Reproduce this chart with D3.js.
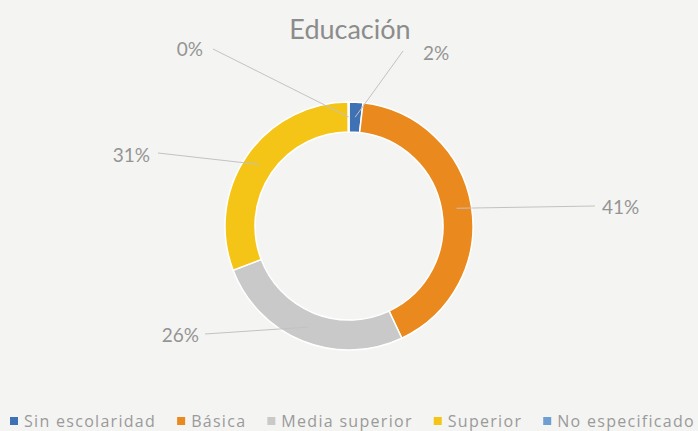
<!DOCTYPE html>
<html>
<head>
<meta charset="utf-8">
<script src="https://cdn.jsdelivr.net/npm/d3@7"></script>
<style>
  html, body { margin: 0; padding: 0; background: #f4f4f2; }
  svg { display: block; font-family: Lato, "Open Sans", sans-serif; }
  .legend text { font-family: "Open Sans", Lato, sans-serif; }
</style>
</head>
<body>
<svg id="chart" width="698" height="431"></svg>
<script>
// data
var categories = ["Sin escolaridad", "Básica", "Media superior", "Superior", "No especificado"];
var shares = [1.8, 41.2, 26.2, 30.7, 0.1];
var colors = ["#3f72b4", "#ea8a1e", "#c9c9c9", "#f4c516", "#6f9fd2"];

var width = 698, height = 431;
var cx = 349, cy = 226, outerR = 124, innerR = 94;

var svg = d3.select("#chart");

// title
svg.append("text")
  .attr("x", cx + 1).attr("y", 39)
  .attr("text-anchor", "middle")
  .attr("fill", "#8c8c8c")
  .style("font-size", "27px")
  .text("Educación");

var pie = d3.pie().sort(null).value(function(d){ return d; });
var arcs = pie(shares);
var arc = d3.arc().innerRadius(innerR).outerRadius(outerR);
var midArc = d3.arc().innerRadius(109).outerRadius(109);

var g = svg.append("g").attr("transform", "translate(" + cx + "," + cy + ")");

g.selectAll("path.slice")
  .data(arcs).enter()
  .append("path")
  .attr("class", "slice")
  .attr("d", arc)
  .attr("fill", function(d, i){ return colors[i]; })
  .attr("stroke", "#ffffff")
  .attr("stroke-width", 1.5);

// label placement (offsets from centre), one per slice
var labelPos = [
  {x: 74, y: -173, anchor: "start", lx: 54, ly: -175},
  {x: 253, y: -19, anchor: "start", lx: 246, ly: -20},
  {x: -150, y: 109, anchor: "end", lx: -144, ly: 108},
  {x: -199, y: -71, anchor: "end", lx: -191, ly: -73},
  {x: -146, y: -177, anchor: "end", lx: -136, ly: -177}
];

var fmt = d3.format(".0f");

g.selectAll("line.leader")
  .data(arcs).enter()
  .append("line")
  .attr("class", "leader")
  .attr("x1", function(d, i){ return labelPos[i].lx; })
  .attr("y1", function(d, i){ return labelPos[i].ly; })
  .attr("x2", function(d){ return midArc.centroid(d)[0]; })
  .attr("y2", function(d){ return midArc.centroid(d)[1]; })
  .attr("stroke", "#c2c2c2")
  .attr("stroke-width", 1);

g.selectAll("text.pct")
  .data(arcs).enter()
  .append("text")
  .attr("class", "pct")
  .attr("x", function(d, i){ return labelPos[i].x; })
  .attr("y", function(d, i){ return labelPos[i].y; })
  .attr("dy", "0.35em")
  .attr("text-anchor", function(d, i){ return labelPos[i].anchor; })
  .attr("fill", "#949494")
  .style("font-size", "19px")
  .text(function(d){ return fmt(d.data) + "%"; });

// legend: spread from x=10 to x=695
var legendLeft = 10, legendRight = 695, swatchGap = 14, itemGap = 21;
var legend = svg.append("g").attr("class", "legend")
  .attr("transform", "translate(" + legendLeft + ",421)");
var items = legend.selectAll("g.item")
  .data(categories).enter()
  .append("g").attr("class", "item");
items.append("rect")
  .attr("x", 0).attr("y", -4)
  .attr("width", 8).attr("height", 8)
  .attr("fill", function(d, i){ return colors[i]; });
var texts = items.append("text")
  .attr("x", swatchGap).attr("y", 0)
  .attr("dy", "0.35em")
  .attr("fill", "#9a9a9a")
  .style("font-size", "16px")
  .text(function(d){ return d; });

var rawW = 0, nChars = 0;
texts.each(function(d){ rawW += this.getComputedTextLength(); nChars += d.length; });
var spare = (legendRight - legendLeft) - rawW - categories.length * swatchGap - (categories.length - 1) * itemGap;
var ls = Math.min(2, Math.max(-0.5, spare / nChars));
texts.style("letter-spacing", ls + "px");

var lx = 0;
items.each(function(){
  d3.select(this).attr("transform", "translate(" + lx + ",0)");
  lx += swatchGap + d3.select(this).select("text").node().getComputedTextLength() + itemGap;
});
</script>
</body>
</html>
